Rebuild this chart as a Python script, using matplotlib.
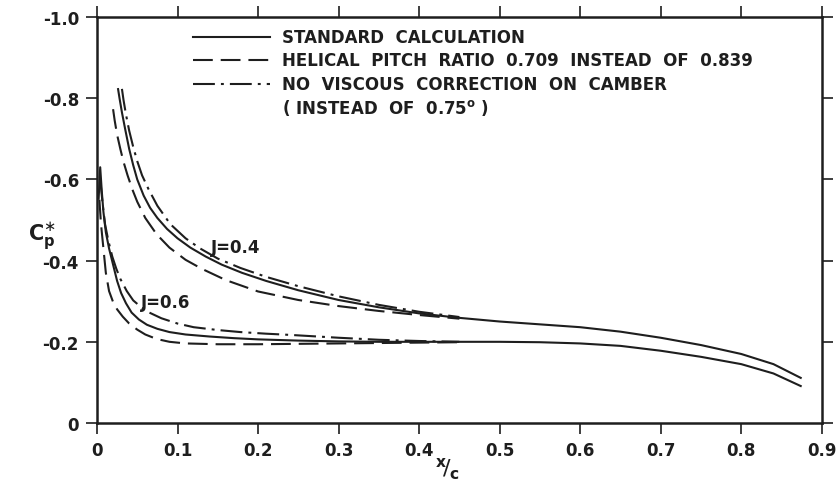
import matplotlib
matplotlib.use("Agg")
import matplotlib.pyplot as plt
from matplotlib.lines import Line2D

plt.rcParams['font.family'] = ['DejaVu Sans']
plt.rcParams['mathtext.fontset'] = 'dejavusans'

# ---------------- data ----------------
x_ticks = [0, 0.1, 0.2, 0.3, 0.4, 0.5, 0.6, 0.7, 0.8, 0.9]
x_ticklabels = ["0", "0.1", "0.2", "0.3", "0.4", "0.5", "0.6", "0.7", "0.8", "0.9"]
y_ticks = [0, -0.2, -0.4, -0.6, -0.8, -1.0]
y_ticklabels = ["0", "-0.2", "-0.4", "-0.6", "-0.8", "-1.0"]

# J = 0.4
x_std_04 = [0.026, 0.028, 0.031, 0.035, 0.04, 0.045, 0.05, 0.058, 0.066, 0.075, 0.087, 0.1,
            0.116, 0.135, 0.155, 0.18, 0.21, 0.25, 0.3, 0.35, 0.4, 0.45, 0.5, 0.55, 0.6,
            0.65, 0.7, 0.75, 0.8, 0.84, 0.875]
y_std_04 = [-0.825, -0.80, -0.765, -0.724, -0.675, -0.635, -0.60, -0.56, -0.53, -0.505, -0.478,
            -0.455, -0.432, -0.41, -0.39, -0.37, -0.35, -0.327, -0.303, -0.285, -0.27, -0.259,
            -0.25, -0.243, -0.236, -0.225, -0.21, -0.192, -0.17, -0.145, -0.11]
x_pitch_04 = [0.02, 0.022, 0.025, 0.029, 0.033, 0.038, 0.044, 0.05, 0.06, 0.074, 0.09, 0.11,
              0.13, 0.16, 0.2, 0.25, 0.3, 0.35, 0.4, 0.45]
y_pitch_04 = [-0.773, -0.745, -0.71, -0.675, -0.643, -0.61, -0.575, -0.545, -0.505, -0.465,
              -0.432, -0.402, -0.38, -0.352, -0.324, -0.303, -0.288, -0.276, -0.266, -0.257]
x_visc_04 = [0.031, 0.033, 0.036, 0.04, 0.045, 0.05, 0.056, 0.064, 0.075, 0.091, 0.11, 0.128,
             0.15, 0.178, 0.21, 0.25, 0.3, 0.35, 0.4, 0.45]
y_visc_04 = [-0.823, -0.795, -0.76, -0.72, -0.68, -0.645, -0.61, -0.576, -0.535, -0.49, -0.455,
             -0.43, -0.405, -0.382, -0.36, -0.337, -0.312, -0.291, -0.274, -0.261]

# J = 0.6
x_std_06 = [0.002, 0.004, 0.006, 0.008, 0.011, 0.015, 0.02, 0.025, 0.03, 0.036, 0.043, 0.052,
            0.062, 0.075, 0.09, 0.11, 0.14, 0.17, 0.2, 0.25, 0.3, 0.35, 0.4, 0.45, 0.5, 0.55,
            0.6, 0.65, 0.7, 0.75, 0.8, 0.84, 0.875]
y_std_06 = [-0.55, -0.63, -0.57, -0.52, -0.47, -0.43, -0.39, -0.35, -0.32, -0.295, -0.272, -0.255,
            -0.242, -0.232, -0.224, -0.218, -0.213, -0.209, -0.206, -0.203, -0.201, -0.2, -0.2,
            -0.2, -0.2, -0.199, -0.196, -0.19, -0.178, -0.163, -0.145, -0.122, -0.09]
x_pitch_06 = [0.003, 0.005, 0.008, 0.011, 0.015, 0.02, 0.025, 0.032, 0.04, 0.05, 0.06, 0.074,
              0.09, 0.11, 0.15, 0.2, 0.25, 0.3, 0.35, 0.4, 0.45]
y_pitch_06 = [-0.55, -0.49, -0.43, -0.37, -0.325, -0.298, -0.28, -0.262, -0.245, -0.23, -0.218,
              -0.207, -0.2, -0.196, -0.194, -0.194, -0.195, -0.196, -0.197, -0.198, -0.199]
x_visc_06 = [0.004, 0.007, 0.01, 0.014, 0.019, 0.024, 0.029, 0.037, 0.045, 0.055, 0.065, 0.08,
             0.1, 0.12, 0.15, 0.178, 0.21, 0.24, 0.3, 0.35, 0.4, 0.45]
y_visc_06 = [-0.60, -0.54, -0.49, -0.45, -0.41, -0.38, -0.355, -0.325, -0.302, -0.285, -0.272,
             -0.258, -0.245, -0.236, -0.229, -0.224, -0.22, -0.217, -0.21, -0.205, -0.202, -0.2]

legend_labels = ["STANDARD  CALCULATION",
                 "HELICAL  PITCH  RATIO  0.709  INSTEAD  OF  0.839",
                 "NO  VISCOUS  CORRECTION  ON  CAMBER",
                 "( INSTEAD  OF  0.75$^\\mathbf{o}$ )"]
curve_labels = ["J=0.4", "J=0.6"]

# ---------------- styles ----------------
INK = "#1e1e1e"
LW = 1.5
dash_style = (0, (9.5, 3.8))
dashdot_style = (0, (10.5, 2.9, 1.4, 2.9))

fig = plt.figure(figsize=(8.36, 4.81), dpi=100)
ax = fig.add_axes([0.116, 0.1185, 0.867, 0.844])

for xs, ys, ls in [(x_std_04, y_std_04, '-'), (x_pitch_04, y_pitch_04, dash_style),
                   (x_visc_04, y_visc_04, dashdot_style),
                   (x_std_06, y_std_06, '-'), (x_pitch_06, y_pitch_06, dash_style),
                   (x_visc_06, y_visc_06, dashdot_style)]:
    ax.plot(xs, ys, color=INK, lw=LW, linestyle=ls, solid_capstyle='butt',
            dash_capstyle='butt', solid_joinstyle='round')

ax.set_xlim(0, 0.9)
ax.set_ylim(0, -1.0)
ax.set_xticks(x_ticks)
ax.set_xticklabels(x_ticklabels, fontweight='bold')
ax.set_yticks(y_ticks)
ax.set_yticklabels(y_ticklabels, fontweight='bold')
ax.tick_params(direction='out', length=8, width=1.2, colors=INK, labelsize=12,
               top=True, right=True, labeltop=False, labelright=False, pad=5)
for sp in ax.spines.values():
    sp.set_linewidth(1.8)
    sp.set_color(INK)

# curve labels
ax.text(0.172, -0.433, curve_labels[0], fontsize=12, fontweight='bold', color=INK,
        ha='center', va='center')
ax.text(0.085, -0.298, curve_labels[1], fontsize=12, fontweight='bold', color=INK,
        ha='center', va='center')

# legend (drawn manually in axes fraction)
styles = ['-', dash_style, dashdot_style]
x0, x1, xt = 0.132, 0.239, 0.255
rows = [0.950, 0.893, 0.836, 0.779]
for i in range(3):
    ax.add_line(Line2D([x0, x1], [rows[i], rows[i]], transform=ax.transAxes, color=INK,
                       lw=LW, linestyle=styles[i]))
for i, lab in enumerate(legend_labels):
    ax.text(xt, rows[i], lab, transform=ax.transAxes, fontsize=12, fontweight='bold',
            color=INK, va='center', ha='left')

# axis labels
fig.text(0.05, 0.508, r'$\mathbf{C}_{\mathbf{p}}^{\ast}$', fontsize=15, color=INK,
         ha='center', va='center')
fig.text(0.535, 0.025, r'$^{\mathbf{x}}\!/_{\mathbf{c}}$', fontsize=16, color=INK,
         ha='center', va='center')

fig.savefig("out.png", dpi=100)
